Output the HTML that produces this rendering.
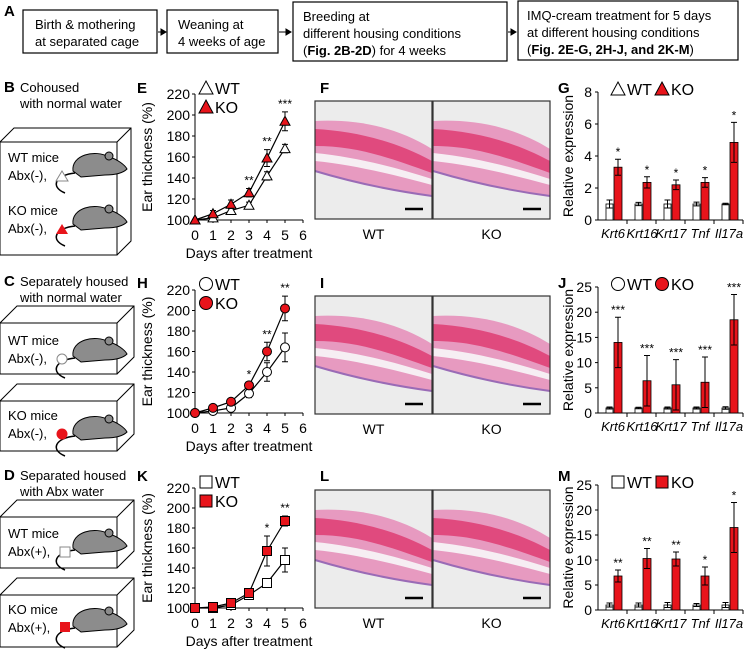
<!DOCTYPE html>
<html><head><meta charset="utf-8"><style>
html,body{margin:0;padding:0;background:#fff}
svg{display:block;font-family:"Liberation Sans",Arial,sans-serif}
</style></head><body>
<svg id="fig" width="746" height="653" viewBox="0 0 746 653" xmlns="http://www.w3.org/2000/svg">
<g font-size="13">
<text x="4" y="16" font-weight="bold" font-size="15">A</text>
<rect x="23" y="10" width="134" height="43" fill="#fff" stroke="#000" stroke-width="1.2"/>
<text x="35" y="29">Birth &amp; mothering</text><text x="35" y="46">at separated cage</text>
<rect x="167" y="10" width="111" height="43" fill="#fff" stroke="#000" stroke-width="1.2"/>
<text x="178" y="29">Weaning at</text><text x="178" y="46">4 weeks of age</text>
<rect x="293" y="2" width="214" height="59" fill="#fff" stroke="#000" stroke-width="1.2"/>
<text x="303" y="21">Breeding at</text><text x="303" y="38">different housing conditions</text>
<text x="303" y="55">(<tspan font-weight="bold">Fig. 2B-2D</tspan>) for 4 weeks</text>
<rect x="518" y="1" width="220" height="59" fill="#fff" stroke="#000" stroke-width="1.2"/>
<text x="527" y="20">IMQ-cream treatment for 5 days</text><text x="527" y="37">at different housing conditions</text>
<text x="527" y="54">(<tspan font-weight="bold">Fig. 2E-G, 2H-J, and 2K-M</tspan>)</text>
<path d="M158 32 L164 32 M161 29 L166 32 L161 35Z M279 32 L289 32 M286 29 L291 32 L286 35Z M508 32 L514 32 M511 29 L516 32 L511 35Z" stroke="#000" fill="#000"/>
</g>
<g id="left" font-size="13"></g>
<g id="charts"></g>
</svg>
<script>
// ---- data ----
const days=[0,1,2,3,4,5];
const dayTicks=[0,1,2,3,4,5,6];
const thickTicks=[100,120,140,160,180,200,220];
const eWT=[100,102,109,114,142,168];
const eWTerr=[0,1,2,3,4,4];
const eKO=[100,106,115,126,159,194];
const eKOerr=[0,3,4,4,8,9];
const eStars=['','','','**','**','***'];
const hWT=[100,102,105,119,140,164];
const hWTerr=[0,1,1,4,9,14];
const hKO=[100,105,111,127,160,202];
const hKOerr=[0,2,2,3,9,12];
const hStars=['','','','*','**','**'];
const kWT=[100,100,103,113,125,148];
const kWTerr=[0,1,1,2,4,12];
const kKO=[100,101,105,115,157,187];
const kKOerr=[0,1,2,3,15,5];
const kStars=['','','','','*','**'];
const genes=['Krt6','Krt16','Krt17','Tnf','Il17a'];
const gTicks=[0,2,4,6,8];
const gWT=[1,1,1,1,1];
const gWTerr=[0.25,0.1,0.25,0.12,0.05];
const gKO=[3.3,2.35,2.2,2.35,4.85];
const gKOerr=[0.5,0.35,0.3,0.3,1.25];
const gStars=['*','*','*','*','*'];
const jTicks=[0,5,10,15,20,25];
const jWT=[1,1,1,1,1];
const jWTerr=[0.2,0.15,0.2,0.2,0.25];
const jKO=[14,6.4,5.6,6.1,18.5];
const jKOerr=[5,5,5,5,5];
const jStars=['***','***','***','***','***'];
const mTicks=[0,5,10,15,20,25];
const mWT=[1,1,1,1,1];
const mWTerr=[0.4,0.4,0.5,0.3,0.5];
const mKO=[6.8,10.3,10.2,6.8,16.5];
const mKOerr=[1.2,2,1.4,1.8,5];
const mStars=['**','**','**','*','*'];

const NS='http://www.w3.org/2000/svg';
const RED='#e8141b';
function mk(parent,tag,attrs,txt){const e=document.createElementNS(NS,tag);for(const k in attrs)e.setAttribute(k,attrs[k]);if(txt!==undefined)e.textContent=txt;parent.appendChild(e);return e;}
const charts=document.getElementById('charts');
const left=document.getElementById('left');

function marker(g,shape,cx,cy,fill){
  let e;
  if(shape==='tri') e=mk(g,'polygon',{points:`${cx},${cy-5} ${cx+5},${cy+4} ${cx-5},${cy+4}`,fill:fill,stroke:'#000','stroke-width':1});
  else if(shape==='circ') e=mk(g,'circle',{cx:cx,cy:cy,r:4.5,fill:fill,stroke:'#000','stroke-width':1});
  else e=mk(g,'rect',{x:cx-4.5,y:cy-4.5,width:9,height:9,fill:fill,stroke:'#000','stroke-width':1});
  return e;
}
function bigMarker(g,shape,cx,cy,fill){
  let e;
  if(shape==='tri') e=mk(g,'polygon',{points:`${cx},${cy-7} ${cx+7},${cy+6} ${cx-7},${cy+6}`,fill:fill,stroke:'#000','stroke-width':1});
  else if(shape==='circ') e=mk(g,'circle',{cx:cx,cy:cy,r:6.5,fill:fill,stroke:'#000','stroke-width':1});
  else e=mk(g,'rect',{x:cx-6,y:cy-6,width:12,height:12,fill:fill,stroke:'#000','stroke-width':1});
  return e;
}
function letter(t,x,y){const e=mk(charts,'text',{x:x,y:y,'font-weight':'bold','font-size':15},t);

}

function lineChart(id,yTop,yBot,wt,wtErr,ko,koErr,stars,shape){
  const g=mk(charts,'g',{});
  
  
  const x=d=>195+d*18;
  const y=v=>yBot-(v-100)*(yBot-yTop)/120;
  const ax=mk(g,'path',{d:`M195 ${yTop} L195 ${yBot} L303 ${yBot}`,fill:'none',stroke:'#000','stroke-width':1});
  
  
  thickTicks.forEach(t=>{mk(g,'line',{x1:192,x2:195,y1:y(t),y2:y(t),stroke:'#000'});
    const l=mk(g,'text',{x:190,y:y(t)+5,'text-anchor':'end','font-size':14},t);
    
    });
  dayTicks.forEach(d=>{mk(g,'line',{x1:x(d),x2:x(d),y1:yBot,y2:yBot+3,stroke:'#000'});
    const l=mk(g,'text',{x:x(d),y:yBot+20,'text-anchor':'middle','font-size':14},d);
    
    });
  const xt=mk(g,'text',{x:249,y:yBot+38,'text-anchor':'middle','font-size':14},'Days after treatment');
  
  
  const cy=(yTop+yBot)/2;
  const yt=mk(g,'text',{x:0,y:0,'text-anchor':'middle','font-size':14,transform:`translate(152 ${cy}) rotate(-90)`},'Ear thickness (%)');
  
  
  [[wt,wtErr,'#fff','wt'],[ko,koErr,RED,'ko']].forEach(([s,e,fill,nm])=>{
    const p=mk(g,'polyline',{points:days.map(d=>x(d)+','+y(s[d])).join(' '),fill:'none',stroke:'#000','stroke-width':1.2});
    
    
    days.forEach(d=>{if(e[d]>0){const eb=mk(g,'path',{d:`M${x(d)} ${y(s[d]-e[d])} L${x(d)} ${y(s[d]+e[d])} M${x(d)-3} ${y(s[d]+e[d])} L${x(d)+3} ${y(s[d]+e[d])} M${x(d)-3} ${y(s[d]-e[d])} L${x(d)+3} ${y(s[d]-e[d])}`,stroke:'#000',fill:'none'});
      
      }});
    days.forEach(d=>{const m=marker(g,shape,x(d),y(s[d]),fill);
      
      });
  });
  days.forEach(d=>{if(stars[d]){const st=mk(g,'text',{x:x(d),y:y(ko[d]+koErr[d])-4,'text-anchor':'middle','font-size':12},stars[d]);
    
    }});
  const lg=mk(g,'g',{});
  
  
  const ly=yTop-6;
  bigMarker(lg,shape,206,ly,'#fff');mk(lg,'text',{x:215,y:ly+6,'font-size':16},'WT');
  bigMarker(lg,shape,206,ly+19,RED);mk(lg,'text',{x:215,y:ly+25,'font-size':16},'KO');
}

function barChart(id,yTop,yBot,ticks,wt,wtErr,ko,koErr,stars,shape){
  const g=mk(charts,'g',{});
  
  
  const maxV=ticks[ticks.length-1];
  const y=v=>yBot-v*(yBot-yTop)/maxV;
  const cw=29,x0=598;
  const ax=mk(g,'path',{d:`M${x0} ${yTop} L${x0} ${yBot} L743 ${yBot}`,fill:'none',stroke:'#000'});
  
  
  ticks.forEach(t=>{mk(g,'line',{x1:x0-3,x2:x0,y1:y(t),y2:y(t),stroke:'#000'});
    const l=mk(g,'text',{x:592,y:y(t)+5,'text-anchor':'end','font-size':14},t);
    
    });
  for(let i=1;i<=genes.length;i++)mk(g,'line',{x1:x0+i*cw,x2:x0+i*cw,y1:yBot,y2:yBot+4,stroke:'#000'});
  const yt=mk(g,'text',{x:0,y:0,'text-anchor':'middle','font-size':14,transform:`translate(573 ${(yTop+yBot)/2}) rotate(-90)`},'Relative expression');
  
  
  genes.forEach((gn,i)=>{
    const bx=x0+i*cw;
    const l=mk(g,'text',{x:bx+15,y:yBot+18,'text-anchor':'middle','font-size':13,'font-style':'italic'},gn);
    
    
    [[wt,wtErr,'#fff',8,7,'wt'],[ko,koErr,RED,16,8,'ko']].forEach(([s,e,fill,off,w,nm])=>{
      const r=mk(g,'rect',{x:bx+off,y:y(s[i]),width:w,height:yBot-y(s[i]),fill:fill,stroke:'#000','stroke-width':0.8});
      
      
      const cx=bx+off+w/2;
      const eb=mk(g,'path',{d:`M${cx} ${y(s[i]-e[i])} L${cx} ${y(s[i]+e[i])} M${cx-3} ${y(s[i]+e[i])} L${cx+3} ${y(s[i]+e[i])} M${cx-3} ${y(s[i]-e[i])} L${cx+3} ${y(s[i]-e[i])}`,stroke:'#000',fill:'none'});
      
      
    });
    const st=mk(g,'text',{x:bx+20,y:y(ko[i]+koErr[i])-3,'text-anchor':'middle','font-size':12},stars[i]);
    
    
  });
  const lg=mk(g,'g',{});
  
  
  const ly=yTop-3;
  bigMarker(lg,shape,618,ly,'#fff');mk(lg,'text',{x:627,y:ly+6,'font-size':16},'WT');
  bigMarker(lg,shape,662,ly,RED);mk(lg,'text',{x:671,y:ly+6,'font-size':16},'KO');
}

function histo(id,yTop){
  const g=mk(charts,'g',{});
  
  
  [[315,'wt'],[433,'ko']].forEach(([x,nm],k)=>{
    const h=118,w=117;
    const im=mk(g,'g',{});
    
    
    mk(im,'rect',{x:x,y:yTop,width:w,height:h,fill:'#ececec'});
    mk(im,'path',{d:`M${x} ${yTop+20} C${x+40} ${yTop+18},${x+80} ${yTop+25},${x+w} ${yTop+48} L${x+w} ${yTop+95} C${x+80} ${yTop+90},${x+40} ${yTop+82},${x} ${yTop+70}Z`,fill:'#e79ac0'});
    mk(im,'path',{d:`M${x} ${yTop+28} C${x+40} ${yTop+30},${x+80} ${yTop+40},${x+w} ${yTop+60} L${x+w} ${yTop+72} C${x+70} ${yTop+55},${x+40} ${yTop+45},${x} ${yTop+45}Z`,fill:'#e04a7e'});
    mk(im,'path',{d:`M${x} ${yTop+52} C${x+40} ${yTop+56},${x+80} ${yTop+66},${x+w} ${yTop+78} L${x+w} ${yTop+84} C${x+80} ${yTop+74},${x+40} ${yTop+64},${x} ${yTop+60}Z`,fill:'#f6eef3'});
    mk(im,'path',{d:`M${x} ${yTop+70} C${x+40} ${yTop+82},${x+80} ${yTop+90},${x+w} ${yTop+95}`,fill:'none',stroke:'#9a6bb6','stroke-width':2});
    mk(im,'rect',{x:x,y:yTop,width:w,height:h,fill:'none',stroke:'#333','stroke-width':1.2});
    mk(im,'line',{x1:x+w-27,x2:x+w-9,y1:yTop+h-10,y2:yTop+h-10,stroke:'#000','stroke-width':2.5});
    const t=mk(g,'text',{x:x+w/2,y:yTop+h+20,'text-anchor':'middle','font-size':14},nm.toUpperCase());
    
    
  });
}

function mouse(g,x,y,flip){
  const m=mk(g,'g',{transform:`translate(${x} ${y})`});
  mk(m,'path',{d:'M-20 8 C-40 10,-45 22,-30 28',fill:'none',stroke:'#000','stroke-width':1.5});
  mk(m,'path',{d:'M-22 6 C-24 -10,0 -16,14 -8 C22 -6,30 0,32 4 C28 8,20 10,10 10 L-14 12 Z',fill:'#8c8c8c',stroke:'#000','stroke-width':1});
  mk(m,'circle',{cx:14,cy:-9,r:4,fill:'#8c8c8c',stroke:'#000'});
  return m;
}
function cube(g,name,yBack,yFront,yBot,lines){
  const c=mk(g,'g',{});
  
  
  const d=yFront-yBack;
  mk(c,'path',{d:`M0 ${yFront} L${d} ${yBack} L${117+d} ${yBack} L${117+d} ${yBot-d} L117 ${yBot} M0 ${yFront} L117 ${yFront} L117 ${yBot} M117 ${yFront} L${117+d} ${yBack}`,fill:'none',stroke:'#000','stroke-width':1});
  mk(c,'rect',{x:0,y:yFront,width:117,height:yBot-yFront,fill:'none',stroke:'#000'});
  lines.forEach(([t,ly])=>mk(c,'text',{x:8,y:ly,'font-size':13},t));
}
// left schematics
(function(){
  const L=left;
  [['B','Cohoused','with normal water',87],['C','Separately housed','with normal water',281],['D','Separated housed','with Abx water',475]].forEach(([l,a,b,y])=>{
    const t=mk(L,'text',{x:4,y:y+5,'font-size':15,'font-weight':'bold'},l);
    
    
    const t1=mk(L,'text',{x:20,y:y+5,'font-size':13},a);
    
    
    mk(L,'text',{x:20,y:y+21,'font-size':13},b);
  });
  cube(L,'cohoused-cage',128,142,255,[['WT mice',162],['Abx(-),',180],['KO mice',215],['Abx(-),',233]]);
  cube(L,'wt-separate-cage-normal',306,323,374,[['WT mice',345],['Abx(-),',363]]);
  cube(L,'ko-separate-cage-normal',384,401,451,[['KO mice',420],['Abx(-),',438]]);
  cube(L,'wt-separate-cage-abx',500,517,568,[['WT mice',538],['Abx(+),',556]]);
  cube(L,'ko-separate-cage-abx',578,595,647,[['KO mice',614],['Abx(+),',632]]);
  [[95,165],[95,218],[95,350],[95,428],[95,542],[95,620]].forEach(([x,y])=>mouse(L,x,y));
  mk(L,'polygon',{points:'62,171 68,181 56,181',fill:'#fff',stroke:'#888'});
  mk(L,'polygon',{points:'62,224 68,234 56,234',fill:RED});
  mk(L,'circle',{cx:62,cy:359,r:5,fill:'#fff',stroke:'#888'});
  mk(L,'circle',{cx:62,cy:434,r:5.5,fill:RED});
  mk(L,'rect',{x:60,y:547,width:10,height:10,fill:'#fff',stroke:'#888'});
  mk(L,'rect',{x:60,y:622,width:10,height:10,fill:RED});
})();

letter('E',137,93);letter('H',137,288);letter('K',137,481);
letter('F',320,93);letter('I',320,288);letter('L',320,481);
letter('G',558,93);letter('J',558,288);letter('M',558,481);
lineChart('e',94,220,eWT,eWTerr,eKO,eKOerr,eStars,'tri');
lineChart('h',290,413,hWT,hWTerr,hKO,hKOerr,hStars,'circ');
lineChart('k',488,608,kWT,kWTerr,kKO,kKOerr,kStars,'sq');
histo('f',101);histo('i',296);histo('l',490);
barChart('g',92,220,gTicks,gWT,gWTerr,gKO,gKOerr,gStars,'tri');
barChart('j',287,413,jTicks,jWT,jWTerr,jKO,jKOerr,jStars,'circ');
barChart('m',485,610,mTicks,mWT,mWTerr,mKO,mKOerr,mStars,'sq');
</script>
</body></html>
